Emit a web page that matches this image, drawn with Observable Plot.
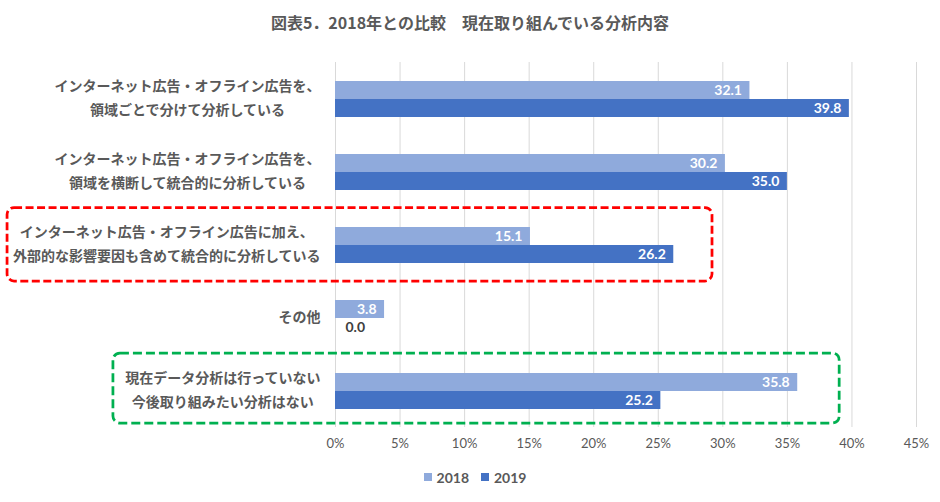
<!DOCTYPE html>
<html>
<head>
<meta charset="utf-8">
<script src="https://cdn.jsdelivr.net/npm/d3@7"></script>
<script src="https://cdn.jsdelivr.net/npm/@observablehq/plot@0.6"></script>
<style>
  html, body { margin: 0; padding: 0; background: #fff; }
  body { width: 940px; height: 502px; overflow: hidden; font-family: "Noto Sans CJK JP", sans-serif; }
  #title { height: 45px; line-height: 44px; text-align: center; font-size: 16px; font-weight: bold; color: #595959; white-space: pre; }
  #chart svg { display: block; }
  #legend { height: 34px; display: flex; justify-content: center; align-items: center; font-family: Lato, sans-serif; font-weight: bold; font-size: 14px; color: #595959; padding-left: 10px; }
  #legend .item { display: flex; align-items: center; margin: 0 6px; }
  #legend .sw { width: 8px; height: 8px; margin-right: 5px; }
</style>
</head>
<body>
<div id="title"></div>
<div id="chart"></div>
<div id="legend"></div>
<script>
const titleText = "図表5．2018年との比較　現在取り組んでいる分析内容";
const categories = [
  "インターネット広告・オフライン広告を、\n領域ごとで分けて分析している",
  "インターネット広告・オフライン広告を、\n領域を横断して統合的に分析している",
  "インターネット広告・オフライン広告に加え、\n外部的な影響要因も含めて統合的に分析している",
  "その他",
  "現在データ分析は行っていない\n今後取り組みたい分析はない"
];
const years = ["2018", "2019"];
const values2018 = [32.1, 30.2, 15.1, 3.8, 35.8];
const values2019 = [39.8, 35.0, 26.2, 0.0, 25.2];
const xTicks = [0, 5, 10, 15, 20, 25, 30, 35, 40, 45];
const colors = ["#8faadc", "#4472c4"];

const data = categories.flatMap((c, i) => [
  {cat: c, year: years[0], value: values2018[i]},
  {cat: c, year: years[1], value: values2019[i]}
]);

document.getElementById("title").textContent = titleText;

// highlight boxes (annotation extents in x data units)
const redBox = [{cat: categories[2], x1: -25.4, x2: 29.2}];
const greenBox = [{cat: categories[4], x1: -17.2, x2: 39.05}];

const chart = Plot.plot({
  width: 940,
  height: 415,
  marginLeft: 335,
  marginRight: 24,
  marginTop: 15,
  marginBottom: 32,
  x: {domain: [0, 45]},
  y: {domain: years, paddingInner: 0, paddingOuter: 0.93, axis: null},
  fy: {domain: categories, padding: 0},
  color: {domain: years, range: colors},
  style: {fontFamily: "'Noto Sans CJK JP', sans-serif", color: "#595959", background: "white", overflow: "visible"},
  marks: [
    Plot.gridX(xTicks, {stroke: "#d9d9d9", strokeOpacity: 1, strokeWidth: 1}),
    Plot.barX(data, {fy: "cat", y: "year", x: "value", fill: "year"}),
    Plot.text(data.filter(d => d.value >= 1), {
      fy: "cat", y: "year", x: "value", text: d => d.value.toFixed(1),
      textAnchor: "end", dx: -8, fill: "white", fontWeight: "bold", fontSize: 14, fontFamily: "Lato, sans-serif"
    }),
    Plot.text(data.filter(d => d.value < 1), {
      fy: "cat", y: "year", x: "value", text: d => d.value.toFixed(1),
      textAnchor: "start", dx: 10, fill: "#404040", fontWeight: "bold", fontSize: 14, fontFamily: "Lato, sans-serif"
    }),
    Plot.rect(redBox, {fy: "cat", x1: "x1", x2: "x2", fill: "none", stroke: "#ff0000", strokeWidth: 2.75, strokeDasharray: "8,3.5", rx: 7, insetTop: -0.5, insetBottom: 0}),
    Plot.rect(greenBox, {fy: "cat", x1: "x1", x2: "x2", fill: "none", stroke: "#00b050", strokeWidth: 2.75, strokeDasharray: "9,4", rx: 7, insetTop: -1, insetBottom: 4}),
    Plot.axisX(xTicks, {tickFormat: d => d + "%", tickSize: 0, tickPadding: 11, fontSize: 13, fontFamily: "Lato, sans-serif", fill: "#595959", label: null}),
    Plot.axisFy({anchor: "left", tickSize: 0, tickPadding: 15, dy: -4, fontSize: 14, fontWeight: "bold", lineHeight: 1.75, fill: "#595959", label: null})
  ]
});
document.getElementById("chart").append(chart);

// center multi-line category labels relative to each other (right-aligned block)
chart.querySelectorAll('g[aria-label="fy-axis tick label"] text').forEach(t => {
  const w = t.getBBox().width;
  const tspans = t.querySelectorAll("tspan");
  t.setAttribute("text-anchor", "middle");
  if (tspans.length) tspans.forEach(s => s.setAttribute("x", -w / 2));
  else t.setAttribute("x", -w / 2);
});

const legend = d3.select("#legend");
years.forEach((y, i) => {
  const it = legend.append("div").attr("class", "item");
  it.append("div").attr("class", "sw").style("background", colors[i]);
  it.append("span").text(y);
});
</script>
</body>
</html>
